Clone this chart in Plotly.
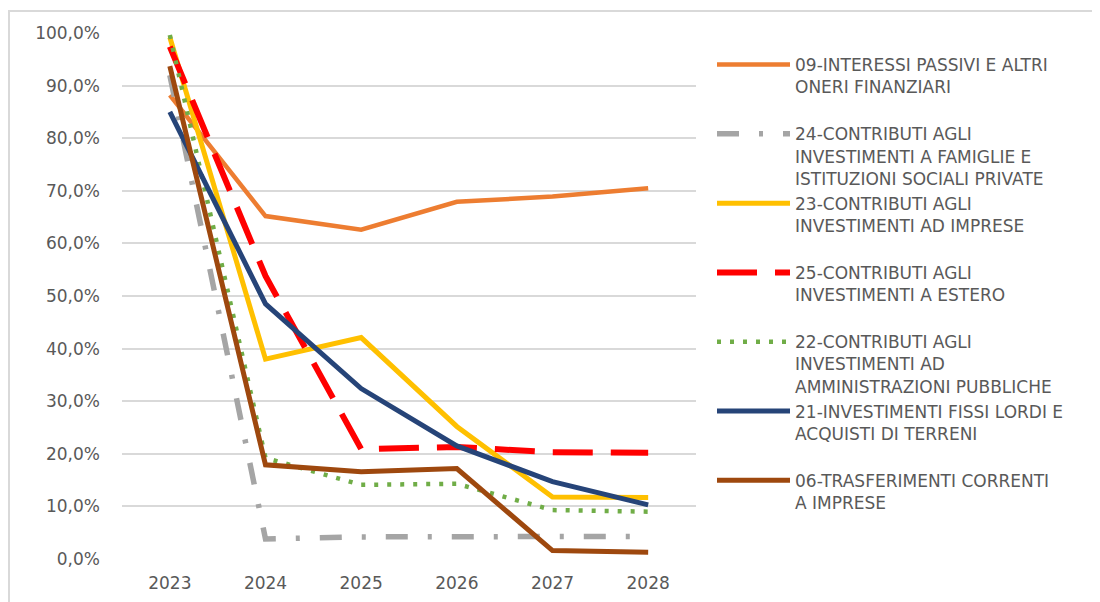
import plotly.graph_objects as go

years = ["2023", "2024", "2025", "2026", "2027", "2028"]

s09 = [88.2, 65.2, 62.6, 67.9, 68.9, 70.5]
s24 = [92.0, 3.8, 4.2, 4.3, 4.3, 4.3]
s23 = [99.2, 38.0, 42.1, 25.2, 11.8, 11.7]
s25 = [97.4, 53.8, 20.9, 21.3, 20.3, 20.2]
s22 = [99.6, 19.2, 14.1, 14.3, 9.3, 9.0]
s21 = [85.0, 48.5, 32.4, 21.5, 14.7, 10.3]
s06 = [93.7, 17.9, 16.6, 17.2, 1.6, 1.3]

names = [
    "09-INTERESSI PASSIVI E ALTRI<br>ONERI FINANZIARI<br>\u00a0",
    "24-CONTRIBUTI AGLI<br>INVESTIMENTI A FAMIGLIE E<br>ISTITUZIONI SOCIALI PRIVATE",
    "23-CONTRIBUTI AGLI<br>INVESTIMENTI AD IMPRESE<br>\u00a0",
    "25-CONTRIBUTI AGLI<br>INVESTIMENTI A ESTERO<br>\u00a0",
    "22-CONTRIBUTI AGLI<br>INVESTIMENTI AD<br>AMMINISTRAZIONI PUBBLICHE",
    "21-INVESTIMENTI FISSI LORDI E<br>ACQUISTI DI TERRENI<br>\u00a0",
    "06-TRASFERIMENTI CORRENTI<br>A IMPRESE<br>\u00a0",
]

series = [s09, s24, s23, s25, s22, s21, s06]
colors = ["#ED7D31", "#A5A5A5", "#FFC000", "#FF0000", "#70AD47", "#264478", "#9E480E"]
widths = [4.5, 5.5, 5, 6, 4.5, 5, 5]
dashes = ["solid", "22px,20px,4px,20px", "solid", "40px,18px", "4px,9px", "solid", "solid"]

fig = go.Figure()
for i, (nm, vals) in enumerate(zip(names, series)):
    fig.add_trace(go.Scatter(
        x=years, y=vals, name=nm, mode="lines",
        line=dict(color=colors[i], width=widths[i], dash=dashes[i]),
        legendgroup=f"g{i}",
    ))

# page body has an 8px margin, so work in figure coordinates shifted by 8px
OFF = 8
W, H = 1100 - OFF, 602 - OFF
L, R, T, B = 122 - OFF, 696 - OFF, 33 - OFF, 559 - OFF
pw, ph = R - L, B - T

def px(x):
    return (x - OFF - L) / pw

def py(y):
    return (B - (y - OFF)) / ph

fig.update_layout(
    width=W, height=H,
    margin=dict(l=L, r=W - R, t=T, b=H - B, autoexpand=False),
    paper_bgcolor="white", plot_bgcolor="white",
    separators=", ",
    font=dict(family="DejaVu Sans", size=17, color="#595959"),
    showlegend=True,
    legend=dict(
        x=px(712), y=py(47), xanchor="left", yanchor="top",
        valign="top", itemwidth=73, tracegroupgap=0,
        font=dict(family="DejaVu Sans", size=17, color="#595959"),
        bgcolor="rgba(0,0,0,0)",
    ),
    xaxis=dict(
        type="category", range=[-0.5, 5.5], showgrid=False, zeroline=False,
        showline=False, ticks="", ticklabelstandoff=12,
        tickfont=dict(family="DejaVu Sans", size=17, color="#595959"),
    ),
    yaxis=dict(
        range=[0, 100], tickmode="linear", tick0=0, dtick=10,
        tickformat=".1f", ticksuffix="%",
        showgrid=True, gridcolor="#D9D9D9", gridwidth=1.5,
        zeroline=False, showline=False, ticks="", ticklabelstandoff=21,
        tickfont=dict(family="DejaVu Sans", size=17, color="#595959"),
    ),
    shapes=[dict(
        type="rect", xref="paper", yref="paper",
        x0=px(9), x1=px(1110), y0=py(612), y1=py(11),
        line=dict(color="#D9D9D9", width=2), fillcolor="rgba(0,0,0,0)",
        layer="below",
    )],
)

fig.write_html("out.html")
